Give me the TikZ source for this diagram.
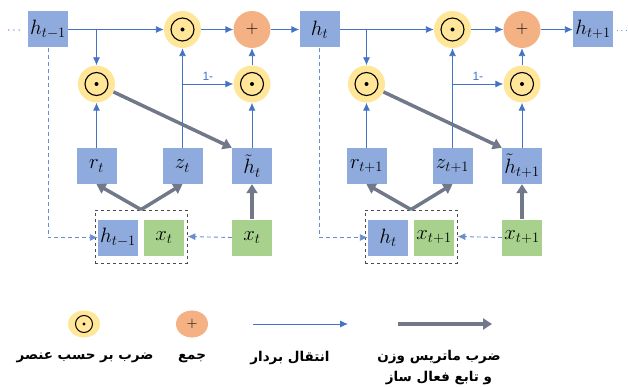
\documentclass[tikz,border=0pt]{standalone}
\usepackage{fontspec}
\setsansfont{Liberation Sans}
\newfontfamily\farsi[Script=Arabic]{DejaVu Sans}
\TeXXeTstate=1
\usetikzlibrary{arrows.meta,shapes.geometric}

\definecolor{boxblue}{RGB}{143,170,220}
\definecolor{boxgreen}{RGB}{169,209,142}
\definecolor{opyellow}{RGB}{255,230,153}
\definecolor{oporange}{RGB}{244,177,131}
\definecolor{lineblue}{RGB}{68,114,196}
\definecolor{wgray}{RGB}{112,120,138}

\begin{document}
\begin{tikzpicture}[x=1pt, y=-1pt]
  \tikzset{
    vec/.style={rectangle, fill=boxblue, minimum width=40pt, minimum height=36pt,
                inner sep=0pt, font=\fontsize{20}{22}\selectfont},
    inp/.style={vec, fill=boxgreen},
    mul/.style={circle, fill=opyellow, minimum size=37pt, inner sep=0pt,
                path picture={\draw[black, line width=1.1pt] (path picture bounding box.center) circle (11.5pt);
                              \fill[black] (path picture bounding box.center) circle (2pt);}},
    add/.style={circle, fill=oporange, minimum size=37pt, inner sep=0pt, font=\fontsize{18}{18}\selectfont},
    lmul/.style={ellipse, fill=opyellow, minimum width=32pt, minimum height=27pt, inner sep=0pt,
                path picture={\draw[black, line width=1pt] (path picture bounding box.center) circle (8.5pt);
                              \fill[black] (path picture bounding box.center) circle (1.7pt);}},
    ladd/.style={ellipse, fill=oporange, minimum width=32pt, minimum height=27pt, inner sep=0pt,
                 font=\fontsize{14}{14}\selectfont},
    pair/.style={rectangle, draw=black!70, dashed, line width=0.8pt, minimum width=92pt, minimum height=53pt},
    flow/.style={-{Latex[length=8pt,width=7pt]}, lineblue, line width=0.9pt},
    skip/.style={flow, dashed, dash pattern=on 4pt off 3pt, draw=lineblue!80},
    wmat/.style={-{Triangle[length=9pt,width=11pt]}, wgray, line width=3.5pt},
    fa/.style={font=\farsi\bfseries\fontsize{13.5}{21}\selectfont, align=center},
  }
  \useasboundingbox (0,0) rectangle (628,387);
  % hidden states (top row)
  \node[vec] (h0) at (48,29.5) {$h_{t-1}$};
  \node[vec] (h1) at (319.5,29.5) {$h_t$};
  \node[vec] (h2) at (593,29.5) {$h_{t+1}$};
  \node[text=lineblue, font=\fontsize{12}{12}\selectfont] (dl) at (14,31) {$\cdots$};
  \node[text=lineblue, font=\fontsize{10}{10}\selectfont] (dr) at (622,31) {$\cdots$};
  % two GRU cells
  \foreach \k/\j/\dx/\s/\q in {1/0/0/t/t-1, 2/1/270/t+1/t}{
    \begin{scope}[xshift=\dx pt]
      \node[mul] (tm\k) at (182.5,29.5) {};
      \node[add] (ad\k) at (252,29.5) {$+$};
      \node[mul] (lm\k) at (96.5,84) {};
      \node[mul] (rm\k) at (252,84) {};
      \node[vec] (r\k) at (96.5,166) {$r_{\s}$};
      \node[vec] (z\k) at (182.5,166) {$z_{\s}$};
      \node[vec] (hh\k) at (252,166) {$\tilde{h}_{\s}$};
      \node[pair] (pr\k) at (141,236.5) {};
      \node[vec] (hx\k) at (118,237.5) {$h_{\q}$};
      \node[inp] (xx\k) at (164,237.5) {$x_{\s}$};
      \node[inp] (xin\k) at (252,237.5) {$x_{\s}$};
    \end{scope}
    % vector paths
    \draw[flow] (h\j.east) -- (tm\k.west);
    \draw[flow] (lm\k.north |- h\j.east) -- (lm\k.north);
    \draw[flow] (tm\k.east) -- (ad\k.west);
    \draw[flow] (ad\k.east) -- (h\k.west);
    \draw[flow] (rm\k.north) -- (ad\k.south);
    \draw[flow] (z\k.north) -- (tm\k.south);
    \draw[flow] (z\k.north |- rm\k.west) -- node[above, font=\sffamily\fontsize{12}{12}\selectfont]{1-} (rm\k.west);
    \draw[flow] (r\k.north) -- (lm\k.south);
    \draw[flow] (hh\k.north) -- (rm\k.south);
    \draw[skip] (h\j.south) |- (hx\k.west);
    \draw[skip] (xin\k.west) -- (pr\k.east);
    % weights + activation
    \draw[wmat] (lm\k.-25) -- (hh\k.north west);
    \draw[wmat] (pr\k.north) -- (r\k.south);
    \draw[wmat] (pr\k.north) -- (z\k.south);
    \draw[wmat] (xin\k.north) -- (hh\k.south);
  }
  % legend
  \node[lmul] (lgm) at (84,324) {};
  \node[ladd] (lga) at (192,324) {$+$};
  \coordinate (lva) at (253,324);
  \coordinate (lvb) at (348,324);
  \draw[flow] (lva) -- (lvb);
  \coordinate (lwa) at (398,324);
  \coordinate (lwb) at (492,324);
  \draw[wmat] (lwa) -- (lwb);
  \node[fa] (lgmt) at (85,358) {\beginR ضرب بر حسب عنصر\endR};
  \node[fa] (lgat) at (192,358) {\beginR جمع\endR};
  \node[fa] (lgvt) at (290,358) {\beginR انتقال بردار\endR};
  \node[fa] (lgwt) at (439,368) {\beginR ضرب ماتریس وزن\endR\\\beginR و تابع فعال ساز\endR};
\end{tikzpicture}
\end{document}
